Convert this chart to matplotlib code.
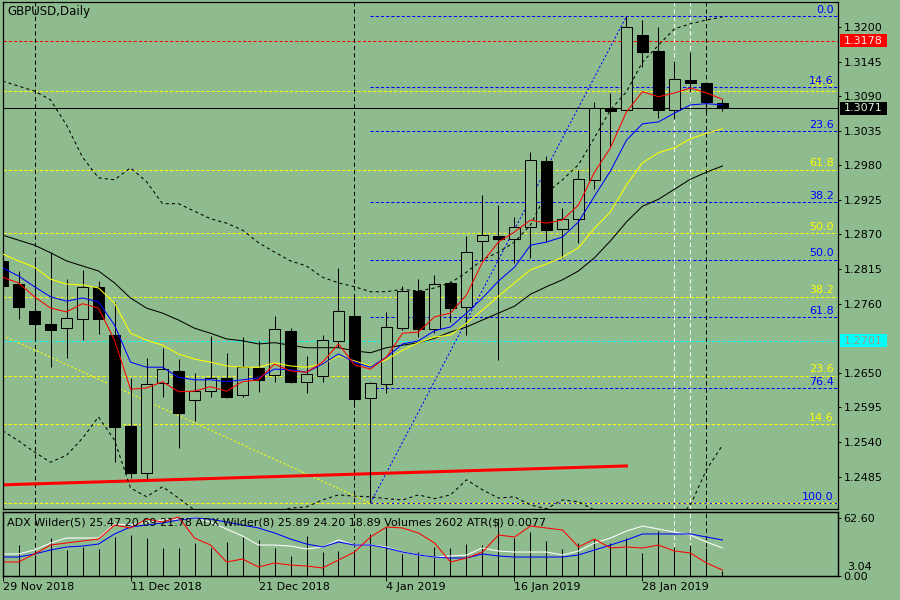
import numpy as np
import matplotlib
matplotlib.use('Agg')
import matplotlib.pyplot as plt
from matplotlib.patches import Rectangle
from matplotlib.transforms import blended_transform_factory

BG = '#8FBC8F'
plt.rcParams['font.family'] = 'DejaVu Sans'
plt.rcParams['font.size'] = 8

# GBPUSD daily bars, 29 Nov 2018 .. 4 Feb 2019
opens = [1.2828, 1.2791, 1.2748, 1.2728, 1.2721, 1.2736, 1.2787, 1.2710, 1.2566, 1.2491,
         1.2634, 1.2653, 1.2607, 1.2621, 1.2642, 1.2615, 1.2658, 1.2647, 1.2717, 1.2636,
         1.2645, 1.2701, 1.2740, 1.2610, 1.2632, 1.2721, 1.2780, 1.2720, 1.2793, 1.2755,
         1.2860, 1.2868, 1.2863, 1.2882, 1.2987, 1.2879, 1.2895, 1.2957, 1.3071, 1.3068,
         1.3187, 1.3162, 1.3068, 1.3116, 1.3111, 1.3079]
highs = [1.2836, 1.2812, 1.2833, 1.2842, 1.2799, 1.2814, 1.2796, 1.2763, 1.2642, 1.2674,
         1.2690, 1.2672, 1.2650, 1.2709, 1.2682, 1.2707, 1.2701, 1.2740, 1.2721, 1.2677,
         1.2710, 1.2817, 1.2774, 1.2636, 1.2747, 1.2788, 1.2799, 1.2806, 1.2796, 1.2868,
         1.2933, 1.2917, 1.2898, 1.3001, 1.2995, 1.2912, 1.2973, 1.3081, 1.3095, 1.3217,
         1.3211, 1.3200, 1.3146, 1.3160, 1.3111, 1.3085]
lows = [1.2779, 1.2736, 1.2702, 1.2659, 1.2674, 1.2702, 1.2712, 1.2508, 1.2483, 1.2481,
        1.2612, 1.2531, 1.2574, 1.2612, 1.2610, 1.2612, 1.2620, 1.2636, 1.2634, 1.2618,
        1.2636, 1.2691, 1.2596, 1.2443, 1.2618, 1.2718, 1.2707, 1.2713, 1.2731, 1.2710,
        1.2830, 1.2671, 1.2825, 1.2833, 1.2858, 1.2833, 1.2857, 1.2942, 1.3011, 1.3068,
        1.3136, 1.3055, 1.3054, 1.3097, 1.3065, 1.3066]
closes = [1.2788, 1.2755, 1.2728, 1.2718, 1.2737, 1.2787, 1.2736, 1.2564, 1.2491, 1.2632,
          1.2656, 1.2586, 1.2621, 1.2642, 1.2612, 1.2659, 1.2639, 1.2720, 1.2636, 1.2648,
          1.2702, 1.2748, 1.2608, 1.2634, 1.2723, 1.2780, 1.2720, 1.2791, 1.2753, 1.2842,
          1.2869, 1.2863, 1.2882, 1.2989, 1.2877, 1.2895, 1.2958, 1.3071, 1.3066, 1.3200,
          1.3160, 1.3068, 1.3117, 1.3111, 1.3081, 1.3071]

# moving averages / bands
ma_red = [1.2802, 1.2793, 1.2771, 1.2753, 1.2747, 1.2760, 1.2753, 1.2702, 1.2624, 1.2626,
          1.2636, 1.2620, 1.2621, 1.2628, 1.2621, 1.2636, 1.2639, 1.2664, 1.2653, 1.2651,
          1.2667, 1.2696, 1.2663, 1.2656, 1.2675, 1.2713, 1.2715, 1.2739, 1.2745, 1.2774,
          1.2826, 1.2858, 1.2874, 1.2893, 1.2888, 1.2893, 1.2917, 1.2969, 1.3008, 1.3065,
          1.3097, 1.3089, 1.3095, 1.3103, 1.3095, 1.3085]
ma_blue = [1.2817, 1.2804, 1.2787, 1.2771, 1.2764, 1.2769, 1.2763, 1.2726, 1.2667, 1.2659,
           1.2659, 1.2643, 1.2639, 1.2639, 1.2636, 1.2639, 1.2642, 1.2656, 1.2655, 1.2651,
           1.2664, 1.2680, 1.2667, 1.2659, 1.2675, 1.2696, 1.2701, 1.2717, 1.2723, 1.2745,
           1.2769, 1.2796, 1.2818, 1.2853, 1.2858, 1.2866, 1.2890, 1.2931, 1.2971, 1.3020,
           1.3046, 1.3049, 1.3063, 1.3076, 1.3078, 1.3076]
ma_yellow = [1.2839, 1.2828, 1.2818, 1.2799, 1.2791, 1.2790, 1.2785, 1.2761, 1.2713, 1.2702,
             1.2694, 1.2680, 1.2672, 1.2667, 1.2661, 1.2659, 1.2659, 1.2666, 1.2661, 1.2659,
             1.2664, 1.2677, 1.2669, 1.2661, 1.2671, 1.2686, 1.2698, 1.2707, 1.2710, 1.2729,
             1.2750, 1.2772, 1.2793, 1.2814, 1.2823, 1.2834, 1.2849, 1.2880, 1.2906, 1.2949,
             1.2984, 1.3000, 1.3008, 1.3022, 1.3031, 1.3038]
ma_black = [1.2869, 1.2861, 1.2853, 1.2841, 1.2828, 1.2820, 1.2812, 1.2793, 1.2769, 1.2753,
            1.2745, 1.2734, 1.2721, 1.2713, 1.2704, 1.2701, 1.2696, 1.2698, 1.2694, 1.2690,
            1.2690, 1.2690, 1.2685, 1.2682, 1.2690, 1.2694, 1.2698, 1.2705, 1.2715, 1.2723,
            1.2734, 1.2745, 1.2756, 1.2775, 1.2787, 1.2798, 1.2812, 1.2833, 1.2860, 1.2890,
            1.2915, 1.2926, 1.2942, 1.2958, 1.2969, 1.2979]
band_upper = [1.3114, 1.3106, 1.3098, 1.3084, 1.3044, 1.2993, 1.2960, 1.2957, 1.2976, 1.2954,
              1.2919, 1.2919, 1.2907, 1.2895, 1.2888, 1.2877, 1.2857, 1.2842, 1.2828, 1.2820,
              1.2802, 1.2793, 1.2787, 1.2779, 1.2779, 1.2783, 1.2780, 1.2785, 1.2793, 1.2810,
              1.2830, 1.2842, 1.2858, 1.2885, 1.2936, 1.2957, 1.2981, 1.3024, 1.3068, 1.3097,
              1.3144, 1.3171, 1.3197, 1.3205, 1.3211, 1.3216]
band_lower = [1.2558, 1.2542, 1.2524, 1.2508, 1.2519, 1.2546, 1.2580, 1.2543, 1.2467, 1.2453,
              1.2469, 1.2451, 1.2432, 1.2424, 1.2419, 1.2419, 1.2424, 1.2429, 1.2435, 1.2437,
              1.2448, 1.2456, 1.2454, 1.2453, 1.2450, 1.2448, 1.2456, 1.2450, 1.2456, 1.2480,
              1.2464, 1.2451, 1.2453, 1.2440, 1.2434, 1.2448, 1.2445, 1.2432, 1.2416, 1.2408,
              1.2403, 1.2403, 1.2413, 1.2440, 1.2496, 1.2535]

# ADX panel
adx_white = [23.9, 23.9, 28.2, 35.8, 41.2, 41.2, 41.2, 56.4, 55.3, 58.6, 60.8, 61.8, 62.9, 58.6,
             51.0, 43.4, 33.6, 33.6, 32.5, 29.3, 31.5, 39.1, 33.6, 33.6, 31.5, 26.0, 22.8, 20.6,
             21.7, 22.8, 30.4, 27.1, 26.0, 26.0, 26.0, 22.8, 27.1, 35.8, 41.2, 48.8, 54.2, 51.0,
             47.7, 44.5, 36.9, 30.4]
adx_blue = [20.6, 20.6, 23.9, 28.2, 31.5, 32.5, 34.7, 45.6, 53.2, 55.3, 57.5, 60.8, 62.9, 61.8,
            58.6, 55.3, 52.1, 46.7, 40.1, 34.7, 31.5, 36.9, 33.6, 33.6, 30.4, 26.0, 22.8, 20.6,
            19.5, 19.5, 23.9, 21.7, 20.6, 20.6, 20.6, 20.6, 22.8, 28.2, 33.6, 39.1, 45.6, 45.6,
            45.6, 45.6, 42.3, 39.1]
adx_red = [15.2, 15.2, 23.9, 33.6, 35.8, 38.0, 40.1, 55.3, 52.1, 61.8, 58.6, 64.0, 41.2, 33.6,
           15.2, 18.4, 9.8, 14.1, 11.9, 10.8, 8.7, 17.4, 26.0, 42.3, 53.2, 52.1, 46.7, 35.8,
           15.2, 19.5, 26.0, 44.5, 42.3, 54.2, 52.1, 49.9, 31.5, 40.1, 30.4, 31.5, 30.4, 33.6,
           27.1, 25.0, 14.1, 6.5]
volumes = [15000, 16120, 10920, 19600, 13520, 15240, 14040, 20440, 21320, 19920,
           14400, 14400, 17000, 14720, 17840, 20440, 18720, 14400, 10400, 20800,
           12640, 13000, 13520, 21680, 25640, 11280, 12640, 15240, 14720, 16480,
           16120, 30000, 19600, 23040, 18360, 13880, 17000, 19080, 17320, 19600,
           12120, 23400, 15240, 16120, 14400, 2602]

date_bars = [0, 8, 16, 24, 32, 40]
date_labels = ['29 Nov 2018', '11 Dec 2018', '21 Dec 2018', '4 Jan 2019', '16 Jan 2019', '28 Jan 2019']
month_sep = [2, 22, 44]
white_vlines = [42, 43]
price_ticks = [1.3200, 1.3145, 1.3090, 1.3035, 1.2980, 1.2925, 1.2870, 1.2815, 1.2760,
               1.2650, 1.2595, 1.2540, 1.2485]

fib_levels = [0.0, 14.6, 23.6, 38.2, 50.0, 61.8, 76.4, 100.0]
blue_fib = (23, 1.2443, 39, 1.3217)      # bar/price of 100 and 0
yellow_fib = (23, 1.2443, -51, 1.3301)   # bar/price of 0 and 100
yellow_shown = [14.6, 23.6, 38.2, 50.0, 61.8, 76.4]
trend_red = (0, 1.2472, 39, 1.2502)

bid = 1.3071
red_level = 1.3178
cyan_level = 1.2701

x = np.arange(len(opens))
xmax = 52.22

fig = plt.figure(figsize=(9, 6), dpi=100, facecolor=BG)
ax = fig.add_axes([0.0028, 0.1517, 0.9283, 0.8445], facecolor=BG)
sub = fig.add_axes([0.0028, 0.04, 0.9283, 0.1072], facecolor=BG)

dash = (0, (3, 2))
lw = 0.75

# fib levels (blue from bar 23 to the right, yellow full width)
b0, bp100, b1, bp0 = blue_fib
for lv in fib_levels:
    p = bp0 - (bp0 - bp100) * lv / 100
    ax.plot([b0, xmax], [p, p], color='blue', lw=lw, ls=dash, zorder=1)
y0b, yp0, y1b, yp100 = yellow_fib
for lv in fib_levels:
    p = yp0 + (yp100 - yp0) * lv / 100
    ax.plot([0, xmax], [p, p], color='yellow', lw=lw, ls=dash, zorder=1)
    if lv in yellow_shown:
        ax.annotate('%.1f' % lv, (xmax, p), xytext=(-3, 2.5), textcoords='offset points',
                    ha='right', va='baseline', color='yellow', fontsize=8, zorder=6)
for lv in fib_levels:
    p = bp0 - (bp0 - bp100) * lv / 100
    ax.annotate('%.1f' % lv, (xmax, p), xytext=(-3, 2.5), textcoords='offset points',
                ha='right', va='baseline', color='blue', fontsize=8, zorder=6)
ax.plot([b0, b1], [bp100, bp0], color='blue', lw=lw, ls=(0, (2, 2)), zorder=1)
ax.plot([y1b, y0b], [yp100, yp0], color='yellow', lw=lw, ls=(0, (2, 2)), zorder=1)

ax.axhline(red_level, color='red', lw=lw, ls=dash, zorder=1)
ax.axhline(cyan_level, color='cyan', lw=lw, ls=dash, zorder=1)
ax.axhline(bid, color='black', lw=lw, zorder=1)

for a in (ax, sub):
    for b in month_sep:
        a.axvline(b, color='black', lw=lw, ls=(0, (4, 3)), zorder=1)
    for b in white_vlines:
        a.axvline(b, color='white', lw=lw, ls=(0, (4, 3)), zorder=1)

ax.plot([trend_red[0], trend_red[2]], [trend_red[1], trend_red[3]], color='red', lw=2.2, zorder=2)

# candles
o = np.array(opens); c = np.array(closes)
up = c >= o
ax.vlines(x, lows, highs, color='black', lw=lw, zorder=2.5)
ax.bar(x, np.maximum(np.abs(c - o), 0.00004), bottom=np.minimum(o, c), width=0.64,
       color=np.where(up, BG, 'black'), edgecolor='black', linewidth=lw, zorder=3)

ax.plot(x, band_upper, color='black', lw=lw, ls=(0, (3, 3)), zorder=4)
ax.plot(x, band_lower, color='black', lw=lw, ls=(0, (3, 3)), zorder=4)
ax.plot(x, ma_black, color='black', lw=lw, zorder=4)
ax.plot(x, ma_yellow, color='yellow', lw=lw, zorder=4)
ax.plot(x, ma_blue, color='blue', lw=lw, zorder=4)
ax.plot(x, ma_red, color='red', lw=lw, zorder=4)

ax.set_xlim(0, xmax)
ax.set_ylim(1.24336, 1.32392)
ax.set_xticks([])
ax.yaxis.tick_right()
ax.set_yticks(price_ticks)
ax.set_yticklabels(['%.4f' % t for t in price_ticks])
ax.tick_params(axis='y', length=2.5, width=0.7, pad=1.5, labelsize=8, colors='black')
for s in ax.spines.values():
    s.set_linewidth(0.9)

ax.text(0.0054, 0.981, 'GBPUSD,Daily', transform=ax.transAxes, ha='left', va='center', fontsize=8.5)

# price labels on the right scale
tr = blended_transform_factory(fig.transFigure, ax.transData)
for price, bgc, fgc in [(red_level, 'red', '#FFE8E8'), (bid, 'black', '#D8F0D0'),
                        (cyan_level, 'cyan', '#9C9C84')]:
    ax.add_patch(Rectangle((840 / 900, price - 0.00104), 47 / 900, 0.00208, transform=tr,
                           facecolor=bgc, edgecolor='none', clip_on=False, zorder=8))
    ax.text(863.5 / 900, price, '%.4f' % price, transform=tr, ha='center', va='center',
            color=fgc, fontsize=8, zorder=9, clip_on=False)

# indicator panel: volumes underneath, ADX lines on top
sub.vlines(x, 0, volumes, color='black', lw=lw, zorder=2)
sub.set_xlim(0, xmax)
sub.set_ylim(0, 33436)
sub.set_yticks([])
sub.set_xticks(date_bars)
sub.set_xticklabels(date_labels, ha='left')
sub.tick_params(axis='x', length=3.6, width=0.7, pad=1, labelsize=8)
ad = sub.twinx()
ad.plot(x, adx_white, color='white', lw=lw)
ad.plot(x, adx_blue, color='blue', lw=lw)
ad.plot(x, adx_red, color='red', lw=lw)
ad.set_ylim(0, 69.8)
ad.set_xlim(0, xmax)
ad.set_yticks([0, 62.6])
ad.set_yticklabels(['0.00', '62.60'])
ad.tick_params(axis='y', length=2.5, width=0.7, pad=1.5, labelsize=8)
for a in (sub, ad):
    for s in a.spines.values():
        s.set_linewidth(0.9)
ad.text(847 / 900, 1 - 567 / 600, '3.04', transform=fig.transFigure, ha='left', va='center', fontsize=8)
ad.text(0.005, 0.83,
        'ADX Wilder(5) 25.47 20.69 21.78 ADX Wilder(8) 25.89 24.20 18.89 Volumes 2602 ATR($) 0.0077',
        transform=ad.transAxes, ha='left', va='center', fontsize=8)

fig.savefig('out.png', dpi=100, facecolor=BG)
